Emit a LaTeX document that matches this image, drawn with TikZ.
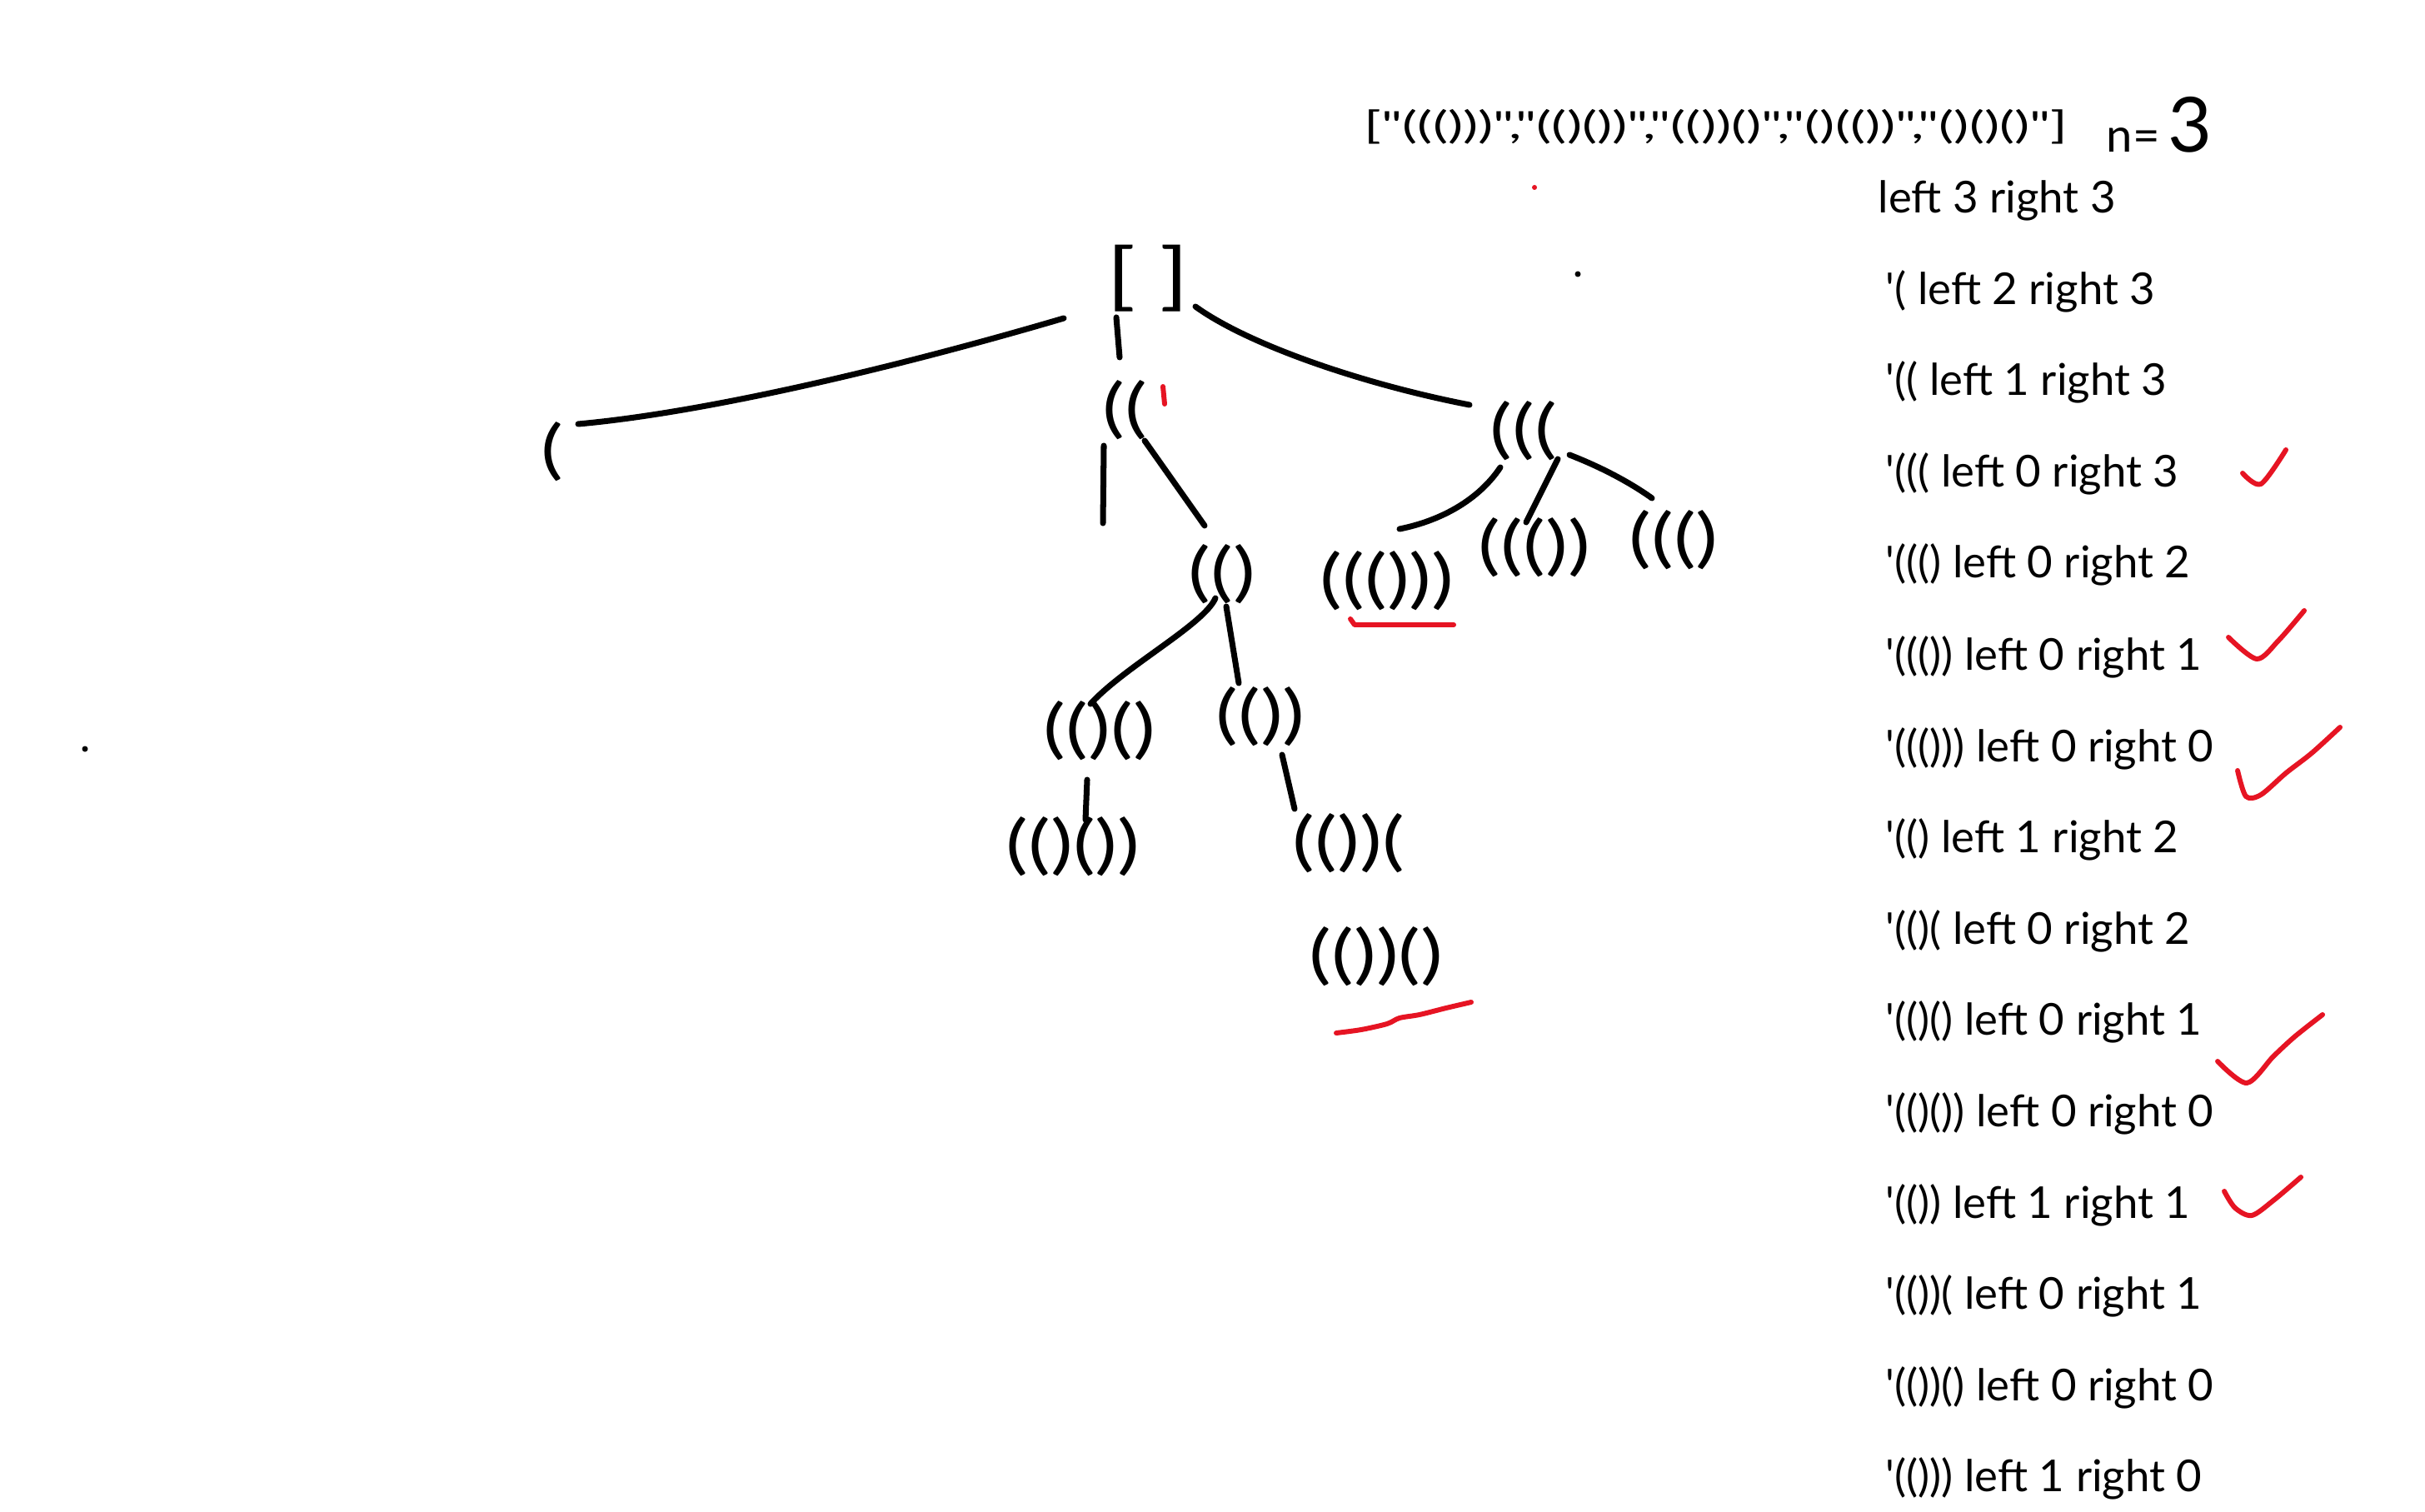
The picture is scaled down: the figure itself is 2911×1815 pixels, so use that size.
\documentclass[tikz,border=0pt]{standalone}
\usepackage{fontspec}
\setmainfont{Lato}
\newfontfamily\parfont[FakeStretch=1.3]{Lato}
\newfontfamily\topfont[FakeStretch=1.5]{Lato}
\newfontfamily\listfont{Lato}
\definecolor{markred}{RGB}{230,20,35}
\begin{document}
\begin{tikzpicture}[x=0.1mm,y=-0.1mm,
  conn/.style={line width=2pt, line cap=round, line join=round},
  redmark/.style={draw=markred, line width=1.7pt, line cap=round, line join=round},
  paren/.style={font=\parfont\fontsize{22}{24}\selectfont, inner sep=0pt},
  listrow/.style={anchor=base west, font=\listfont\fontsize{15}{18}\selectfont, inner sep=0pt},
  toplist/.style={anchor=west, font=\topfont\fontsize{12.9}{15}\selectfont, inner sep=0pt},
]
\fill[white] (0,0) rectangle (2911,1815);
\useasboundingbox (0,0) rectangle (2911,1815);

% ---- tree nodes ----
\node[paren, font=\parfont\fontsize{25}{28}\selectfont] (root) at (1378,334) {[\,\,]};
\node[paren] (l1)   at (663,542)  {(};
\node[paren] (m1)   at (1350,492) {((};
\node[paren] (r1)   at (1829,517) {(((};
\node[paren] (m2)   at (1467,689) {(()};
\node[paren] (r2a)  at (1665,697) {((()))};
\node[paren] (r2b)  at (1842,657) {((())};
\node[paren] (r2c)  at (2009,648) {((()};
\node[paren] (m3a)  at (1320,877) {(()()};
\node[paren] (m3b)  at (1513,860) {(())};
\node[paren] (m4a)  at (1288,1016) {(()())};
\node[paren] (m4b)  at (1619,1012) {(())(};
\node[paren] (m5)   at (1652,1148) {(())()};
\coordinate (m1x) at (1324,628);

% ---- connectors ----
\draw[conn] ([shift={(-101,48)}]root.center) .. controls (1080,440) and (850,495) .. ([shift={(31,-33)}]l1.center);
\draw[conn] ([shift={(-38,47)}]root.center) -- ([shift={(-6,-63)}]m1.center);
\draw[conn] ([shift={(57,34)}]root.center) .. controls (1500,415) and (1640,462) .. ([shift={(-65,-31)}]r1.center);
\draw[conn] ([shift={(-25,43)}]m1.center) -- (m1x);
\draw[conn] ([shift={(24,37)}]m1.center) -- ([shift={(-21,-58)}]m2.center);
\draw[conn] ([shift={(-28,44)}]r1.center) .. controls (1775,600) and (1730,625) .. ([shift={(15,-62)}]r2a.center);
\draw[conn] ([shift={(41,34)}]r1.center) -- ([shift={(-10,-30)}]r2b.center);
\draw[conn] ([shift={(55,29)}]r1.center) .. controls (1920,560) and (1955,578) .. ([shift={(-26,-50)}]r2c.center);
\draw[conn] ([shift={(-8,29)}]m2.center) .. controls (1445,750) and (1350,800) .. ([shift={(-11,-32)}]m3a.center);
\draw[conn] ([shift={(5,39)}]m2.center) -- ([shift={(-26,-40)}]m3b.center);
\draw[conn] ([shift={(-15,59)}]m3a.center) -- ([shift={(15,-32)}]m4a.center);
\draw[conn] ([shift={(26,46)}]m3b.center) -- ([shift={(-65,-41)}]m4b.center);

% ---- red marks on the tree ----
\draw[redmark] (1396,464) -- (1398,485);
\draw[redmark] (1621,743) -- (1626,750) -- (1745,750);
\draw[redmark] plot[smooth] coordinates {(1604,1240) (1634,1236) (1665,1229) (1680,1222) (1704,1218) (1736,1210) (1766,1203)};

% ---- stray dots ----
\fill (1894,329) circle[radius=0.35mm];
\fill (102,899) circle[radius=0.35mm];
\fill[markred] (1842,225) circle[radius=0.3mm];

% ---- top list ----
\node[toplist] (res) at (1637,152) {["((()))","(()())","(())()","()(())","()()()"]};
\node[anchor=west, inner sep=0pt, font=\listfont\fontsize{16}{18}\selectfont] (n) at (2528,150) {n=\,{\fontsize{26}{28}\selectfont 3}};

% ---- right list ----
\node[listrow] (t1)  at (2254,256) {left 3 right 3};
\node[listrow] (t2)  at (2263,366) {\textquotesingle( left 2 right 3};
\node[listrow] (t3)  at (2263,475) {\textquotesingle(( left 1 right 3};
\node[listrow] (t4)  at (2263,585) {\textquotesingle((( left 0 right 3};
\node[listrow] (t5)  at (2263,694) {\textquotesingle((() left 0 right 2};
\node[listrow] (t6)  at (2263,804) {\textquotesingle((()) left 0 right 1};
\node[listrow] (t7)  at (2263,914) {\textquotesingle((())) left 0 right 0};
\node[listrow] (t8)  at (2263,1023) {\textquotesingle(() left 1 right 2};
\node[listrow] (t9)  at (2263,1133) {\textquotesingle(()( left 0 right 2};
\node[listrow] (t10) at (2263,1242) {\textquotesingle(()() left 0 right 1};
\node[listrow] (t11) at (2263,1352) {\textquotesingle(()()) left 0 right 0};
\node[listrow] (t12) at (2263,1462) {\textquotesingle(()) left 1 right 1};
\node[listrow] (t13) at (2263,1571) {\textquotesingle(())( left 0 right 1};
\node[listrow] (t14) at (2263,1681) {\textquotesingle(())() left 0 right 0};
\node[listrow] (t15) at (2263,1790) {\textquotesingle(())) left 1 right 0};

% ---- check marks ----
\draw[redmark] plot[smooth] coordinates {(2692,568) (2714,581) (2744,540)};
\draw[redmark] plot[smooth] coordinates {(2675,765) (2709,791) (2735,769) (2766,733)};
\draw[redmark] plot[smooth] coordinates {(2686,925) (2696,956) (2714,954) (2744,928) (2775,904) (2809,873)};
\draw[redmark] plot[smooth] coordinates {(2662,1274) (2697,1300) (2729,1268) (2755,1244) (2788,1218)};
\draw[redmark] plot[smooth] coordinates {(2670,1430) (2683,1450) (2703,1459) (2729,1441) (2762,1413)};
\end{tikzpicture}
\end{document}
